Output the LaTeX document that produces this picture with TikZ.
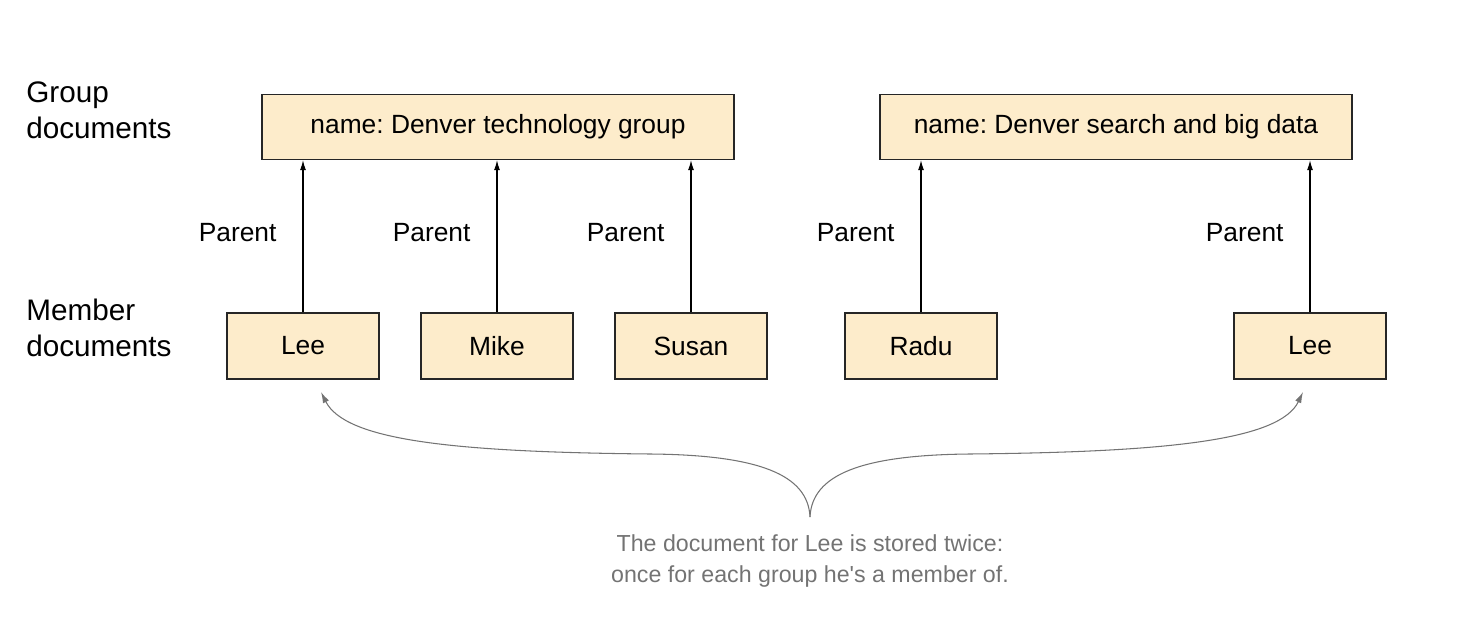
\documentclass[tikz,border=0pt]{standalone}
\usepackage{fontspec}
\setmainfont{Liberation Sans}
\usetikzlibrary{arrows.meta}
\definecolor{docfill}{RGB}{253,236,203}
\definecolor{notegray}{RGB}{115,115,115}
\frenchspacing
\begin{document}
\begin{tikzpicture}[x=0.02cm, y=-0.02cm,
        every node/.style={font=\fontsize{15}{18}\selectfont},
        doc/.style={draw=black!85, fill=docfill, line width=0.8pt, minimum height=1.32cm},
        member/.style={doc, minimum width=3.04cm},
        group/.style={doc, minimum width=9.44cm, minimum height=1.3cm},
        side/.style={align=left, anchor=west, inner sep=0pt, font=\fontsize{16.9}{20.5}\selectfont},
        note/.style={align=center, inner sep=0pt, text=notegray, font=\fontsize{13.2}{17.6}\selectfont}]
            \useasboundingbox (0,0) rectangle (1460,618);

            % Nodes
            \node[side] (glabel) at (26,110) {Group\\documents};
            \node[side] (mlabel) at (26,328) {Member\\documents};
            \node[group] (g1) at (498,127) {name: Denver technology group};
            \node[group] (g2) at (1116,127) {name: Denver search and big data};
            \node[member] (m1) at (303,346) {Lee};
            \node[member] (m2) at (497,346) {Mike};
            \node[member] (m3) at (691,346) {Susan};
            \node[member] (m4) at (921,346) {Radu};
            \node[member] (m5) at (1310,346) {Lee};
            \node[note] (note) at (810,561) {The document for Lee is stored twice:\\once for each group he\textquotesingle s a member of.};
            \coordinate (join) at (810,517);
            \coordinate (tipA) at (321,392);
            \coordinate (tipB) at (1303,392);

            % Edges
            \foreach \m/\g in {m1/g1, m2/g1, m3/g1, m4/g2, m5/g2} {
                \draw[line width=0.6pt, -{Latex[length=2mm,width=1.2mm]}] (\m.north) -- node[left=0.52cm, yshift=2pt, inner sep=0pt] {Parent} (\m.north |- \g.south);
            }

            % Lee is stored twice
            \draw[notegray, line width=0.6pt, -{Latex[length=2.2mm,width=1.3mm]}] (join) .. controls (808,475) and (760,455) .. (650,454) .. controls (450,452) and (345,440) .. (tipA);
            \draw[notegray, line width=0.6pt, -{Latex[length=2.2mm,width=1.3mm]}] (join) .. controls (812,475) and (860,455) .. (970,454) .. controls (1170,452) and (1280,440) .. (tipB);
        \end{tikzpicture}
\end{document}
